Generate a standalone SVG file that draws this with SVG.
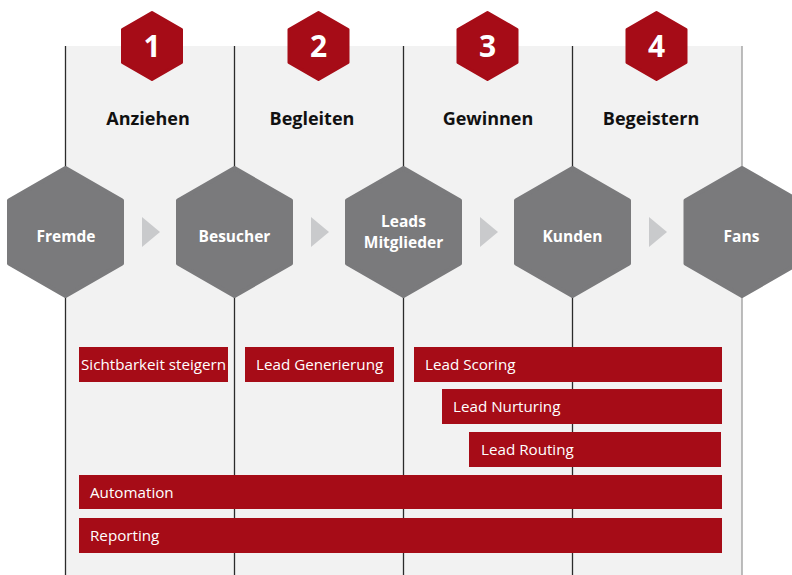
<svg xmlns="http://www.w3.org/2000/svg" width="792" height="575" viewBox="0 0 792 575">
<style>
.bg{fill:#f2f2f2}
.vl{stroke:#2b2b2b;stroke-width:1.3}
.vl2{stroke:#9a9a9a;stroke-width:1.3}
.num{fill:#a60c17;stroke:#a60c17;stroke-width:3;stroke-linejoin:round}
.numt{font-family:"Open Sans","Noto Sans",sans-serif;font-weight:700;font-size:30px;fill:#fff;text-anchor:middle}
.title{font-family:"Open Sans","Noto Sans",sans-serif;font-weight:700;font-size:18px;fill:#111;text-anchor:middle}
.hex{fill:#7a7a7c;stroke:#7a7a7c;stroke-width:4;stroke-linejoin:round}
.hext{font-family:"Open Sans","Noto Sans",sans-serif;font-weight:700;font-size:15.5px;fill:#fff;text-anchor:middle}
.arr{fill:#c9cacc}
.bar{fill:#a60c17}
.bart{font-family:"Open Sans","Noto Sans",sans-serif;font-size:15.2px;fill:#fff}
</style>
<defs>
<polygon id="bighex" points="0,-64 56.5,-31.5 56.5,31.5 0,64 -56.5,31.5 -56.5,-31.5"/>
<polygon id="smallhex" points="0,-33.5 29.5,-16.5 29.5,16.5 0,33.5 -29.5,16.5 -29.5,-16.5"/>
</defs>
<rect class="bg" x="65" y="46" width="677" height="529"/>
<g id="lines">
<line class="vl" x1="65.5" y1="46" x2="65.5" y2="575"/>
<line class="vl" x1="234.5" y1="46" x2="234.5" y2="575"/>
<line class="vl" x1="403.5" y1="46" x2="403.5" y2="575"/>
<line class="vl" x1="572.5" y1="46" x2="572.5" y2="575"/>
<line class="vl2" x1="742" y1="46" x2="742" y2="575"/>
</g>
<g id="phase1"><use href="#smallhex" class="num" x="152" y="46"/><text class="numt" x="152" y="57">1</text><text class="title" x="148" y="125">Anziehen</text></g>
<g id="phase2"><use href="#smallhex" class="num" x="318.5" y="46"/><text class="numt" x="318.5" y="57">2</text><text class="title" x="312" y="125">Begleiten</text></g>
<g id="phase3"><use href="#smallhex" class="num" x="487.5" y="46"/><text class="numt" x="487.5" y="57">3</text><text class="title" x="488" y="125">Gewinnen</text></g>
<g id="phase4"><use href="#smallhex" class="num" x="656.5" y="46"/><text class="numt" x="656.5" y="57">4</text><text class="title" x="651" y="125">Begeistern</text></g>
<g id="connectors">
<polygon class="arr" points="142,217 160,232 142,247"/>
<polygon class="arr" points="311,217 329,232 311,247"/>
<polygon class="arr" points="480,217 498,232 480,247"/>
<polygon class="arr" points="649,217 667,232 649,247"/>
</g>
<g id="fremde"><use href="#bighex" class="hex" x="65.5" y="232"/><text class="hext" x="66" y="242">Fremde</text></g>
<g id="besucher"><use href="#bighex" class="hex" x="234.5" y="232"/><text class="hext" x="234.5" y="242">Besucher</text></g>
<g id="leads"><use href="#bighex" class="hex" x="403.5" y="232"/><text class="hext" x="403.5" y="227">Leads</text><text class="hext" x="403.5" y="247.5">Mitglieder</text></g>
<g id="kunden"><use href="#bighex" class="hex" x="572.5" y="232"/><text class="hext" x="572.5" y="242">Kunden</text></g>
<g id="fans"><use href="#bighex" class="hex" x="742" y="232"/><text class="hext" x="741.5" y="242">Fans</text></g>
<g id="bar-sichtbarkeit"><rect class="bar" x="79" y="347" width="149" height="35"/><text class="bart" x="81" y="370">Sichtbarkeit steigern</text></g>
<g id="bar-generierung"><rect class="bar" x="245" y="347" width="149" height="35"/><text class="bart" x="256" y="370">Lead Generierung</text></g>
<g id="bar-scoring"><rect class="bar" x="414" y="347" width="308" height="35"/><text class="bart" x="425" y="370">Lead Scoring</text></g>
<g id="bar-nurturing"><rect class="bar" x="442" y="389" width="280" height="35"/><text class="bart" x="453" y="412">Lead Nurturing</text></g>
<g id="bar-routing"><rect class="bar" x="469" y="432" width="252" height="35"/><text class="bart" x="481" y="455">Lead Routing</text></g>
<g id="bar-automation"><rect class="bar" x="79" y="475" width="643" height="34"/><text class="bart" x="90" y="498">Automation</text></g>
<g id="bar-reporting"><rect class="bar" x="79" y="518" width="643" height="35"/><text class="bart" x="90" y="541">Reporting</text></g>
</svg>
